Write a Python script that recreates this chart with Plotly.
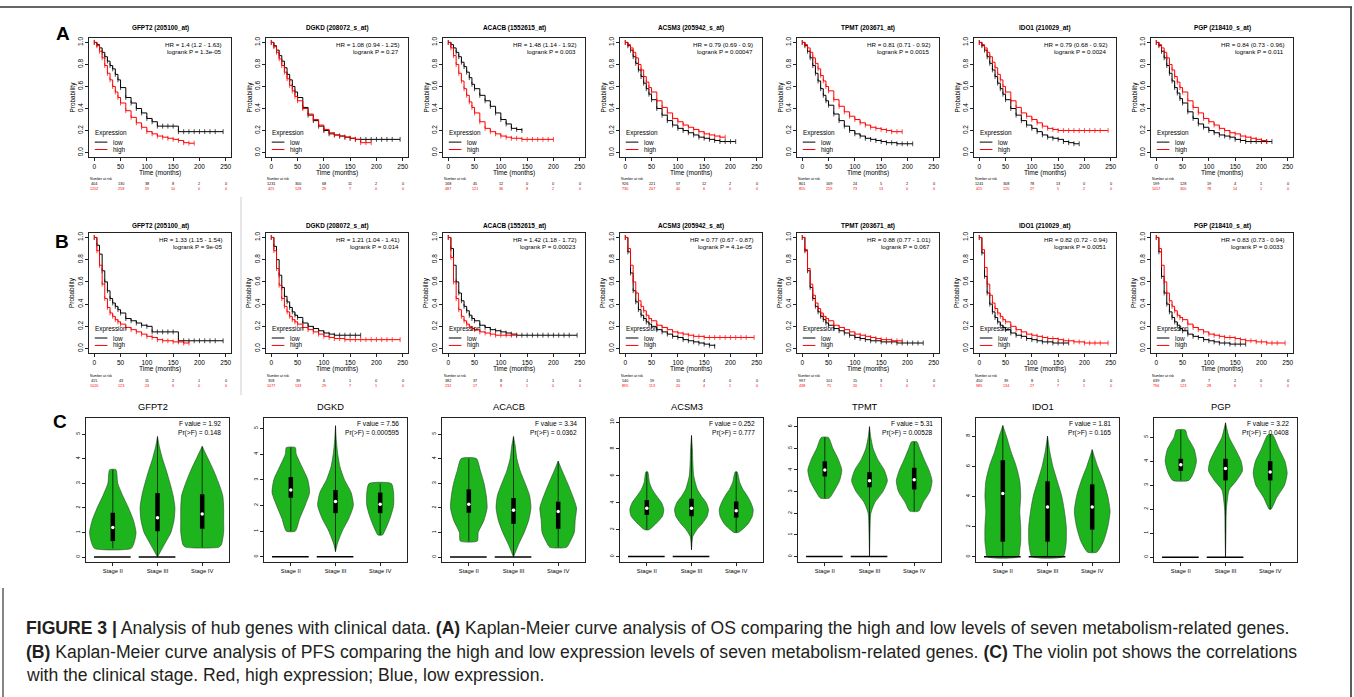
import plotly.graph_objects as go

W, H = 1354, 697

# ---------------- data ----------------
genes = ["GFPT2", "DGKD", "ACACB", "ACSM3", "TPMT", "IDO1", "PGP"]
probes = ["205100_at", "208072_s_at", "1552615_at", "205942_s_at", "203671_at", "210029_at", "218410_s_at"]
hr_A = ["1.4 (1.2 - 1.63)", "1.08 (0.94 - 1.25)", "1.48 (1.14 - 1.92)", "0.79 (0.69 - 0.9)",
        "0.81 (0.71 - 0.92)", "0.79 (0.68 - 0.92)", "0.84 (0.73 - 0.96)"]
p_A = ["1.3e-05", "0.27", "0.003", "0.00047", "0.0015", "0.0024", "0.011"]
hr_B = ["1.33 (1.15 - 1.54)", "1.21 (1.04 - 1.41)", "1.42 (1.18 - 1.72)", "0.77 (0.67 - 0.87)",
        "0.88 (0.77 - 1.01)", "0.82 (0.72 - 0.94)", "0.83 (0.73 - 0.94)"]
p_B = ["9e-05", "0.014", "0.00023", "4.1e-05", "0.067", "0.0051", "0.0033"]

risk_times = [0, 50, 100, 150, 200, 250]
risk_A_low = [[404, 130, 38, 8, 2, 0], [1231, 300, 68, 11, 2, 0], [168, 45, 12, 0, 0, 0], [926, 221, 57, 12, 2, 0],
              [801, 169, 24, 5, 2, 0], [1241, 308, 78, 13, 0, 0], [599, 128, 19, 4, 1, 0]]
risk_A_high = [[1202, 258, 59, 10, 0, 0], [425, 128, 29, 7, 0, 0], [487, 121, 36, 8, 2, 0], [730, 207, 40, 6, 0, 0],
               [855, 259, 73, 13, 0, 0], [415, 120, 27, 5, 2, 0], [1057, 300, 78, 14, 1, 0]]
risk_B_low = [[415, 43, 11, 2, 1, 0], [358, 39, 6, 1, 0, 0], [382, 37, 8, 1, 1, 0], [540, 59, 15, 4, 0, 0],
              [997, 101, 15, 3, 1, 0], [450, 39, 8, 1, 0, 0], [639, 49, 7, 2, 0, 0]]
risk_B_high = [[1020, 123, 24, 6, 0, 0], [1077, 133, 29, 7, 1, 0], [232, 17, 8, 1, 0, 0], [895, 113, 20, 4, 1, 0],
               [438, 71, 20, 5, 0, 0], [985, 134, 27, 7, 1, 0], [796, 123, 28, 6, 1, 0]]

# time grid (months) shared by survival estimates
T = [0, 5, 10, 15, 20, 25, 30, 35, 40, 45, 50, 60, 70, 80, 90, 100, 110, 120, 130, 140, 150,
     160, 170, 180, 190, 200, 210, 220, 230, 245]

# Row A (OS) survival estimates
A_GFPT2_low = [1, .98, .95, .91, .87, .83, .79, .76, .71, .66, .59, .50, .45, .40, .36, .31, .28, .24, .24, .24, .24, .19, .19, .19, .19, .19, .19, .19, .19, .19]
A_GFPT2_high = [1, .97, .92, .86, .79, .72, .66, .60, .55, .50, .45, .38, .32, .27, .23, .19, .17, .15, .14, .13, .12, .11, .09, .085, .085]
A_DGKD_low = [1, .97, .93, .88, .83, .77, .71, .66, .60, .55, .50, .41, .34, .29, .24, .20, .17, .16, .15, .14, .13, .12, .12, .12, .12, .12, .12, .12, .12, .12]
A_DGKD_high = [1, .96, .91, .85, .79, .73, .67, .61, .56, .51, .47, .40, .35, .30, .25, .21, .18, .16, .15, .14, .13, .12, .09, .09, .09]
A_ACACB_low = [1, .98, .95, .91, .87, .82, .78, .73, .68, .62, .58, .52, .47, .42, .36, .30, .26, .22, .21, .20]
A_ACACB_high = [1, .95, .88, .80, .72, .65, .58, .52, .46, .41, .36, .28, .22, .19, .17, .15, .14, .13, .13, .12, .12, .12, .12, .12, .12, .12]
A_ACSM3_low = [1, .97, .93, .87, .81, .75, .69, .63, .58, .53, .48, .40, .34, .29, .25, .22, .20, .18, .16, .14, .13, .12, .11, .10, .10, .10, .10]
A_ACSM3_high = [1, .98, .95, .91, .86, .80, .75, .69, .64, .59, .55, .47, .41, .36, .31, .28, .25, .23, .21, .19, .17, .16, .15, .14, .14]
A_TPMT_low = [1, .97, .92, .86, .79, .72, .65, .58, .52, .47, .43, .35, .29, .24, .20, .17, .15, .13, .12, .11, .10, .09, .09, .08, .08, .08, .08]
A_TPMT_high = [1, .98, .95, .91, .86, .81, .76, .70, .65, .60, .56, .48, .42, .37, .33, .30, .27, .25, .23, .22, .21, .20, .19, .19, .19]
A_IDO1_low = [1, .97, .93, .87, .81, .75, .69, .63, .58, .53, .48, .40, .34, .29, .25, .22, .19, .16, .14, .13, .12, .10, .09, .08, .08]
A_IDO1_high = [1, .98, .95, .91, .87, .82, .77, .71, .66, .60, .55, .47, .41, .36, .33, .30, .27, .24, .22, .21, .20, .20, .20, .20, .20, .20, .20, .20, .20, .20]
A_PGP_low = [1, .97, .92, .86, .79, .72, .65, .59, .54, .49, .45, .37, .31, .26, .23, .20, .18, .16, .15, .14, .12, .11, .10, .10, .10, .10, .10, .10]
A_PGP_high = [1, .98, .95, .91, .86, .80, .75, .69, .64, .59, .55, .47, .41, .36, .31, .28, .25, .22, .20, .18, .17, .15, .14, .13, .12, .11, .10]

# Row B (PFS)
B_GFPT2_low = [1, .93, .85, .70, .60, .52, .45, .41, .38, .35, .32, .27, .25, .23, .21, .20, .15, .15, .15, .15, .15, .07, .07, .07, .07, .07, .07, .07, .07, .07]
B_GFPT2_high = [1, .88, .75, .58, .45, .37, .32, .29, .26, .24, .22, .19, .17, .15, .13, .11, .10, .08, .07, .07, .06, .06, .05, .05]
B_DGKD_low = [1, .92, .80, .66, .55, .47, .42, .37, .33, .30, .28, .23, .20, .18, .16, .14, .13, .12, .12, .12, .12, .12, .12]
B_DGKD_high = [1, .88, .72, .57, .45, .38, .33, .29, .26, .24, .22, .19, .17, .15, .13, .11, .10, .09, .09, .08, .08, .08, .08, .08, .08, .08, .08, .08, .08, .08]
B_ACACB_low = [1, .90, .75, .60, .50, .43, .38, .34, .30, .27, .25, .21, .19, .17, .16, .15, .14, .13, .12, .12, .12, .12, .12, .12, .12, .12, .12, .12, .12, .12]
B_ACACB_high = [1, .82, .60, .45, .35, .29, .25, .22, .20, .18, .17, .15, .14, .13, .12, .12, .12, .12, .12]
B_ACSM3_low = [1, .87, .68, .52, .42, .35, .30, .27, .24, .22, .20, .17, .15, .13, .11, .10, .08, .07, .06, .05, .04, .03, .02]
B_ACSM3_high = [1, .90, .75, .60, .50, .43, .38, .34, .30, .27, .25, .21, .19, .17, .15, .14, .13, .12, .11, .11, .10, .10, .10, .10, .10, .10, .10, .10, .10, .10]
B_TPMT_low = [1, .88, .70, .55, .45, .38, .33, .29, .26, .23, .21, .18, .16, .14, .12, .10, .09, .08, .07, .07, .06, .06, .06, .05, .05, .05, .05, .05, .05]
B_TPMT_high = [1, .89, .72, .58, .48, .41, .36, .32, .29, .27, .25, .21, .19, .17, .15, .13, .12, .11, .10, .09, .08, .08, .07, .07, .07]
B_IDO1_low = [1, .86, .65, .50, .40, .33, .28, .24, .21, .19, .17, .14, .12, .11, .09, .08, .07, .06, .06, .05, .05, .05, .05]
B_IDO1_high = [1, .89, .73, .58, .48, .41, .36, .32, .29, .26, .24, .20, .17, .15, .13, .12, .11, .10, .09, .09, .08, .07, .07, .06, .06, .05, .05, .05, .05, .05]
B_PGP_low = [1, .87, .65, .50, .40, .33, .28, .24, .21, .18, .16, .13, .11, .10, .08, .07, .06, .05, .05, .04, .04, .04, .04]
B_PGP_high = [1, .90, .75, .60, .50, .43, .38, .34, .30, .28, .26, .22, .19, .17, .15, .13, .12, .11, .10, .10, .09, .08, .07, .07, .06, .06, .05, .05, .05, .05]

A_low = [A_GFPT2_low, A_DGKD_low, A_ACACB_low, A_ACSM3_low, A_TPMT_low, A_IDO1_low, A_PGP_low]
A_high = [A_GFPT2_high, A_DGKD_high, A_ACACB_high, A_ACSM3_high, A_TPMT_high, A_IDO1_high, A_PGP_high]
B_low = [B_GFPT2_low, B_DGKD_low, B_ACACB_low, B_ACSM3_low, B_TPMT_low, B_IDO1_low, B_PGP_low]
B_high = [B_GFPT2_high, B_DGKD_high, B_ACACB_high, B_ACSM3_high, B_TPMT_high, B_IDO1_high, B_PGP_high]

# Violin panels: density outline (y level, half width) per stage, box stats [q1, median, q3]
stages = ["Stage II", "Stage III", "Stage IV"]
f_values = ["1.92", "7.56", "3.34", "0.252", "5.31", "1.81", "3.22"]
pr_values = ["0.148", "0.000595", "0.0362", "0.777", "0.00528", "0.165", "0.0408"]
vio_yrange = [[-0.2, 5.65], [-0.2, 5.4], [-0.2, 5.65], [-0.4, 10.3], [-0.25, 6.4], [-0.35, 9.2], [-0.2, 5.8]]
vio_ticks = [[0, 1, 2, 3, 4, 5], [0, 1, 2, 3, 4, 5], [0, 1, 2, 3, 4, 5], [0, 2, 4, 6, 8, 10],
             [0, 1, 2, 3, 4, 5, 6], [0, 2, 4, 6, 8], [0, 1, 2, 3, 4, 5]]
vio_zero = [[1, 1, 0], [1, 1, 0], [1, 1, 0], [1, 1, 0], [1, 1, 0], [1, 1, 0], [1, 1, 0]]

GFPT2_vy = [[0.35, 0.6, 1.0, 1.5, 2.0, 2.5, 3.0, 3.55], [0, 0.5, 1.0, 1.5, 2.0, 2.5, 3.0, 3.5, 4.0, 4.5, 4.9],
            [0.4, 0.5, 1.0, 1.5, 2.0, 2.5, 3.0, 3.5, 4.0, 4.5]]
GFPT2_vw = [[0.41, 0.48, 0.52, 0.46, 0.35, 0.22, 0.11, 0.07], [0, 0.15, 0.30, 0.37, 0.39, 0.35, 0.28, 0.20, 0.11, 0.04, 0],
            [0.37, 0.43, 0.48, 0.48, 0.48, 0.46, 0.37, 0.26, 0.13, 0]]
GFPT2_box = [[0.65, 1.2, 1.8], [1.05, 1.6, 2.6], [1.15, 1.75, 2.55]]

DGKD_vy = [[1.0, 1.5, 2.0, 2.5, 3.0, 3.5, 4.0, 4.25], [0.2, 0.5, 1.0, 1.5, 2.0, 2.5, 3.0, 3.5, 4.0, 4.5, 5.1],
           [0.85, 1.0, 1.5, 2.0, 2.5, 2.85]]
DGKD_vw = [[0.1, 0.2, 0.32, 0.42, 0.38, 0.25, 0.12, 0.1], [0, 0.04, 0.15, 0.30, 0.40, 0.35, 0.2, 0.1, 0.05, 0.02, 0],
           [0.05, 0.1, 0.22, 0.3, 0.3, 0.25]]
DGKD_box = [[2.3, 2.6, 3.1], [1.7, 2.15, 2.6], [1.7, 2.05, 2.5]]

ACACB_vy = [[0.65, 1.0, 1.5, 2.0, 2.5, 3.0, 3.5, 4.0], [0, 0.5, 1.0, 1.5, 2.0, 2.5, 3.0, 3.5, 4.0, 4.5, 4.9],
            [0.4, 0.6, 1.0, 1.5, 2.0, 2.5, 3.0, 3.5, 3.9]]
ACACB_vw = [[0.19, 0.21, 0.34, 0.41, 0.39, 0.34, 0.26, 0.17], [0, 0.11, 0.24, 0.34, 0.39, 0.36, 0.26, 0.15, 0.075, 0.04, 0],
            [0.19, 0.26, 0.36, 0.38, 0.41, 0.32, 0.21, 0.09, 0]]
ACACB_box = [[1.8, 2.15, 2.75], [1.35, 1.9, 2.4], [1.15, 1.85, 2.25]]

ACSM3_vy = [[2.0, 2.5, 3.0, 3.5, 4.0, 4.5, 5.0, 5.5, 6.3], [0.5, 1.5, 2.0, 2.5, 3.0, 3.5, 4.0, 4.5, 5.0, 6.0, 7.0, 8.0, 9.0],
            [1.8, 2.2, 2.5, 3.0, 3.5, 4.0, 4.5, 5.0, 5.5, 6.3]]
ACSM3_vw = [[0.05, 0.22, 0.35, 0.38, 0.33, 0.22, 0.12, 0.06, 0.02], [0, 0.03, 0.12, 0.25, 0.35, 0.38, 0.33, 0.22, 0.13, 0.05, 0.03, 0.02, 0],
            [0.05, 0.2, 0.28, 0.36, 0.38, 0.33, 0.25, 0.15, 0.08, 0.02]]
ACSM3_box = [[3.1, 3.6, 4.2], [3.0, 3.6, 4.3], [2.9, 3.4, 4.1]]

TPMT_vy = [[2.7, 3.0, 3.5, 4.0, 4.5, 5.0, 5.5], [0, 1.0, 2.0, 2.5, 3.0, 3.5, 4.0, 4.5, 5.0, 5.5, 6.0],
           [2.1, 2.5, 3.0, 3.5, 4.0, 4.5, 5.0, 5.3]]
TPMT_vw = [[0.1, 0.2, 0.33, 0.38, 0.3, 0.18, 0.08], [0, 0.01, 0.03, 0.12, 0.3, 0.4, 0.33, 0.18, 0.08, 0.03, 0],
           [0.1, 0.2, 0.35, 0.4, 0.33, 0.22, 0.12, 0.06]]
TPMT_box = [[3.7, 4.0, 4.4], [3.2, 3.5, 3.9], [3.1, 3.55, 4.1]]

IDO1_vy = [[0, 0.5, 1, 2, 3, 4, 5, 6, 7, 8, 8.7], [0, 0.5, 1, 2, 3, 4, 5, 6, 7, 8],
           [0.3, 1, 2, 3, 4, 5, 6, 7.1]]
IDO1_vw = [[0.35, 0.38, 0.4, 0.4, 0.38, 0.4, 0.38, 0.3, 0.18, 0.08, 0], [0.35, 0.4, 0.42, 0.42, 0.38, 0.32, 0.22, 0.12, 0.05, 0],
           [0.1, 0.25, 0.35, 0.4, 0.35, 0.25, 0.12, 0]]
IDO1_box = [[1.0, 4.2, 6.4], [1.0, 3.3, 5.0], [1.8, 3.3, 4.8]]

PGP_vy = [[3.2, 3.5, 4.0, 4.5, 5.0, 5.3], [0, 1, 2, 2.8, 3.2, 3.6, 4.0, 4.5, 5.0, 5.6],
          [2.0, 2.5, 3.0, 3.5, 4.0, 4.5, 5.1]]
PGP_vw = [[0.18, 0.28, 0.35, 0.3, 0.15, 0.1], [0, 0.01, 0.02, 0.08, 0.25, 0.38, 0.35, 0.22, 0.08, 0],
          [0.02, 0.15, 0.32, 0.38, 0.33, 0.2, 0.05]]
PGP_box = [[3.6, 3.85, 4.1], [3.2, 3.7, 4.1], [3.2, 3.55, 4.0]]

vio_y = [GFPT2_vy, DGKD_vy, ACACB_vy, ACSM3_vy, TPMT_vy, IDO1_vy, PGP_vy]
vio_w = [GFPT2_vw, DGKD_vw, ACACB_vw, ACSM3_vw, TPMT_vw, IDO1_vw, PGP_vw]
vio_box = [GFPT2_box, DGKD_box, ACACB_box, ACSM3_box, TPMT_box, IDO1_box, PGP_box]

caption = [
    "<b>FIGURE 3 |</b> Analysis of hub genes with clinical data. <b>(A)</b> Kaplan-Meier curve analysis of OS comparing the high and low levels of seven metabolism-related genes.",
    "<b>(B)</b> Kaplan-Meier curve analysis of PFS comparing the high and low expression levels of seven metabolism-related genes. <b>(C)</b> The violin pot shows the correlations",
    "with the clinical stage. Red, high expression; Blue, low expression.",
]

# ---------------- helpers ----------------
FONT = "Liberation Sans, Arial, sans-serif"
RED = "#FF0000"
GREEN = "#1DB41D"


def PX(x):
    return x / W


def PY(y):
    return 1 - y / H


fig = go.Figure()
annotations = []
shapes = []
axes = {}
count = [0]


def new_axes(xl, xr, yt, yb, xrange, yrange, xopt, yopt):
    count[0] += 1
    n = count[0]
    s = "" if n == 1 else str(n)
    base = dict(showgrid=False, zeroline=False, showline=True, mirror=True, linecolor="#222",
                linewidth=0.8, ticks="outside", ticklen=3, tickwidth=0.7, tickcolor="#222",
                fixedrange=True)
    xa = dict(base, domain=[PX(xl), PX(xr)], range=xrange, anchor="y" + s, **xopt)
    ya = dict(base, domain=[PY(yb), PY(yt)], range=yrange, anchor="x" + s, **yopt)
    axes["xaxis" + s] = xa
    axes["yaxis" + s] = ya
    return "x" + s, "y" + s


def ann(text, x, y, size, xref="paper", yref="paper", color="black", xanchor="center",
        yanchor="middle", angle=0):
    annotations.append(dict(text=text, x=x, y=y, xref=xref, yref=yref, showarrow=False,
                            font=dict(family=FONT, size=size, color=color), xanchor=xanchor,
                            yanchor=yanchor, textangle=angle))


# ---------------- KM panels ----------------
rows = [
    dict(top=38, bot=157, title=28, tlab=173, nar=179, lowy=184, highy=189,
         low=A_low, high=A_high, hr=hr_A, p=p_A, rl=risk_A_low, rh=risk_A_high),
    dict(top=233, bot=353, title=226, tlab=369, nar=376, lowy=380.5, highy=385.5,
         low=B_low, high=B_high, hr=hr_B, p=p_B, rl=risk_B_low, rh=risk_B_high),
]
for r in rows:
    for i, g in enumerate(genes):
        xl = 89 + 177 * i
        xr = xl + 142
        xa, ya = new_axes(xl, xr, r["top"], r["bot"], [-10, 260], [-0.04, 1.04],
                          dict(tickvals=[0, 50, 100, 150, 200, 250],
                               tickfont=dict(family=FONT, size=6.5, color="black")),
                          dict(tickvals=[0, 0.2, 0.4, 0.6, 0.8, 1.0], tickformat=".1f", tickangle=-90,
                               tickfont=dict(family=FONT, size=6.5, color="black")))
        for surv, col in ((r["low"][i], "black"), (r["high"][i], RED)):
            fig.add_trace(go.Scatter(x=T[:len(surv)], y=surv, xaxis=xa, yaxis=ya,
                                     mode="lines+markers", line=dict(color=col, width=1, shape="hv"),
                                     marker=dict(symbol="line-ns", size=3.5, line=dict(color=col, width=0.7)),
                                     hoverinfo="skip", showlegend=False))
        cx = (xl + xr) / 2
        ann("<b>%s (%s)</b>" % (g, probes[i]), PX(cx), PY(r["title"]), 6.4)
        ann("HR = " + r["hr"][i], 247, 0.985, 6.2, xref=xa, yref=ya, xanchor="right")
        ann("logrank P = " + r["p"][i], 247, 0.915, 6.2, xref=xa, yref=ya, xanchor="right")
        ann("Expression", -3, 0.175, 6.4, xref=xa, yref=ya, xanchor="left")
        ann("low", 31, 0.095, 6.4, xref=xa, yref=ya, xanchor="left")
        ann("high", 31, 0.028, 6.4, xref=xa, yref=ya, xanchor="left")
        shapes.append(dict(type="line", xref=xa, yref=ya, x0=1, x1=25, y0=0.095, y1=0.095,
                           line=dict(color="black", width=1)))
        shapes.append(dict(type="line", xref=xa, yref=ya, x0=1, x1=25, y0=0.028, y1=0.028,
                           line=dict(color=RED, width=1)))
        ann("Probability", PX(xl - 17), (PY(r["top"]) + PY(r["bot"])) / 2, 6.4, angle=-90)
        ann("Time (months)", 125, PY(r["tlab"]), 6.6, xref=xa)
        ann("Number at risk", 12, PY(r["nar"]), 3.4, xref=xa)
        ann("low", -27, PY(r["lowy"]), 3.8, xref=xa)
        ann("high", -27, PY(r["highy"]), 3.8, xref=xa, color=RED)
        for k, t in enumerate(risk_times):
            ann(str(r["rl"][i][k]), t, PY(r["lowy"]), 3.8, xref=xa)
            ann(str(r["rh"][i][k]), t, PY(r["highy"]), 3.8, xref=xa, color=RED)

# ---------------- violin panels ----------------
for i, g in enumerate(genes):
    xl = 86 + 178 * i
    xr = xl + 143
    xa, ya = new_axes(xl, xr, 418, 562, [0.4, 3.6], vio_yrange[i],
                      dict(tickvals=[1, 2, 3], ticktext=stages,
                           tickfont=dict(family=FONT, size=5.8, color="black")),
                      dict(tickvals=vio_ticks[i], tickangle=-90,
                           tickfont=dict(family=FONT, size=5.2, color="black")))
    for k in range(3):
        c = k + 1
        ys = vio_y[i][k]
        ws = vio_w[i][k]
        px_ = [c + w for w in ws] + [c - w for w in ws[::-1]] + [c + ws[0]]
        py_ = list(ys) + list(ys[::-1]) + [ys[0]]
        fig.add_trace(go.Scatter(x=px_, y=py_, xaxis=xa, yaxis=ya, mode="lines", fill="toself",
                                 fillcolor=GREEN, line=dict(color="#2a4a2a", width=0.6, shape="spline",
                                                            smoothing=0.6),
                                 hoverinfo="skip", showlegend=False))
        fig.add_trace(go.Scatter(x=[c, c], y=[ys[0], ys[-1]], xaxis=xa, yaxis=ya, mode="lines",
                                 line=dict(color="black", width=0.7), hoverinfo="skip", showlegend=False))
        q1, med, q3 = vio_box[i][k]
        fig.add_trace(go.Scatter(x=[c, c], y=[q1, q3], xaxis=xa, yaxis=ya, mode="lines",
                                 line=dict(color="black", width=4.5), hoverinfo="skip", showlegend=False))
        fig.add_trace(go.Scatter(x=[c], y=[med], xaxis=xa, yaxis=ya, mode="markers",
                                 marker=dict(color="white", size=3.5), hoverinfo="skip", showlegend=False))
        if vio_zero[i][k]:
            fig.add_trace(go.Scatter(x=[c - 0.42, c + 0.4], y=[0, 0], xaxis=xa, yaxis=ya, mode="lines",
                                     line=dict(color="black", width=1.5), hoverinfo="skip", showlegend=False))
    ann(g, PX((xl + xr) / 2 - 5), PY(407), 9.3)
    ann("F value = " + f_values[i], PX(xr - 6), PY(424), 6.6, xanchor="right")
    ann("Pr(>F) = " + pr_values[i], PX(xr - 6), PY(432.5), 6.6, xanchor="right")

# ---------------- letters, caption, frame ----------------
ann("<b>A</b>", PX(63), PY(33), 19)
ann("<b>B</b>", PX(62), PY(242), 19)
ann("<b>C</b>", PX(60), PY(421), 19)
for j, line in enumerate(caption):
    annotations.append(dict(text=line, x=PX(24), y=PY([628, 652, 675][j]), xref="paper", yref="paper",
                            showarrow=False, xanchor="left", yanchor="middle",
                            font=dict(family=FONT, size=17.6, color="#231f20")))

shapes.append(dict(type="line", xref="paper", yref="paper", x0=0, x1=PX(1352), y0=PY(7), y1=PY(7),
                   line=dict(color="#333", width=1.6)))
shapes.append(dict(type="line", xref="paper", yref="paper", x0=PX(1351), x1=PX(1351), y0=PY(7), y1=PY(697),
                   line=dict(color="#333", width=1.6)))
shapes.append(dict(type="line", xref="paper", yref="paper", x0=PX(3), x1=PX(3), y0=PY(588), y1=PY(697),
                   line=dict(color="#333", width=1.2)))
shapes.append(dict(type="line", xref="paper", yref="paper", x0=PX(241), x1=PX(241), y0=PY(197), y1=PY(395),
                   line=dict(color="#cccccc", width=1)))

fig.update_layout(width=W, height=H, margin=dict(l=0, r=0, t=0, b=0), paper_bgcolor="white",
                  plot_bgcolor="white", showlegend=False, annotations=annotations, shapes=shapes,
                  font=dict(family=FONT), **axes)
fig.write_html("out.html", config={"displayModeBar": False})
